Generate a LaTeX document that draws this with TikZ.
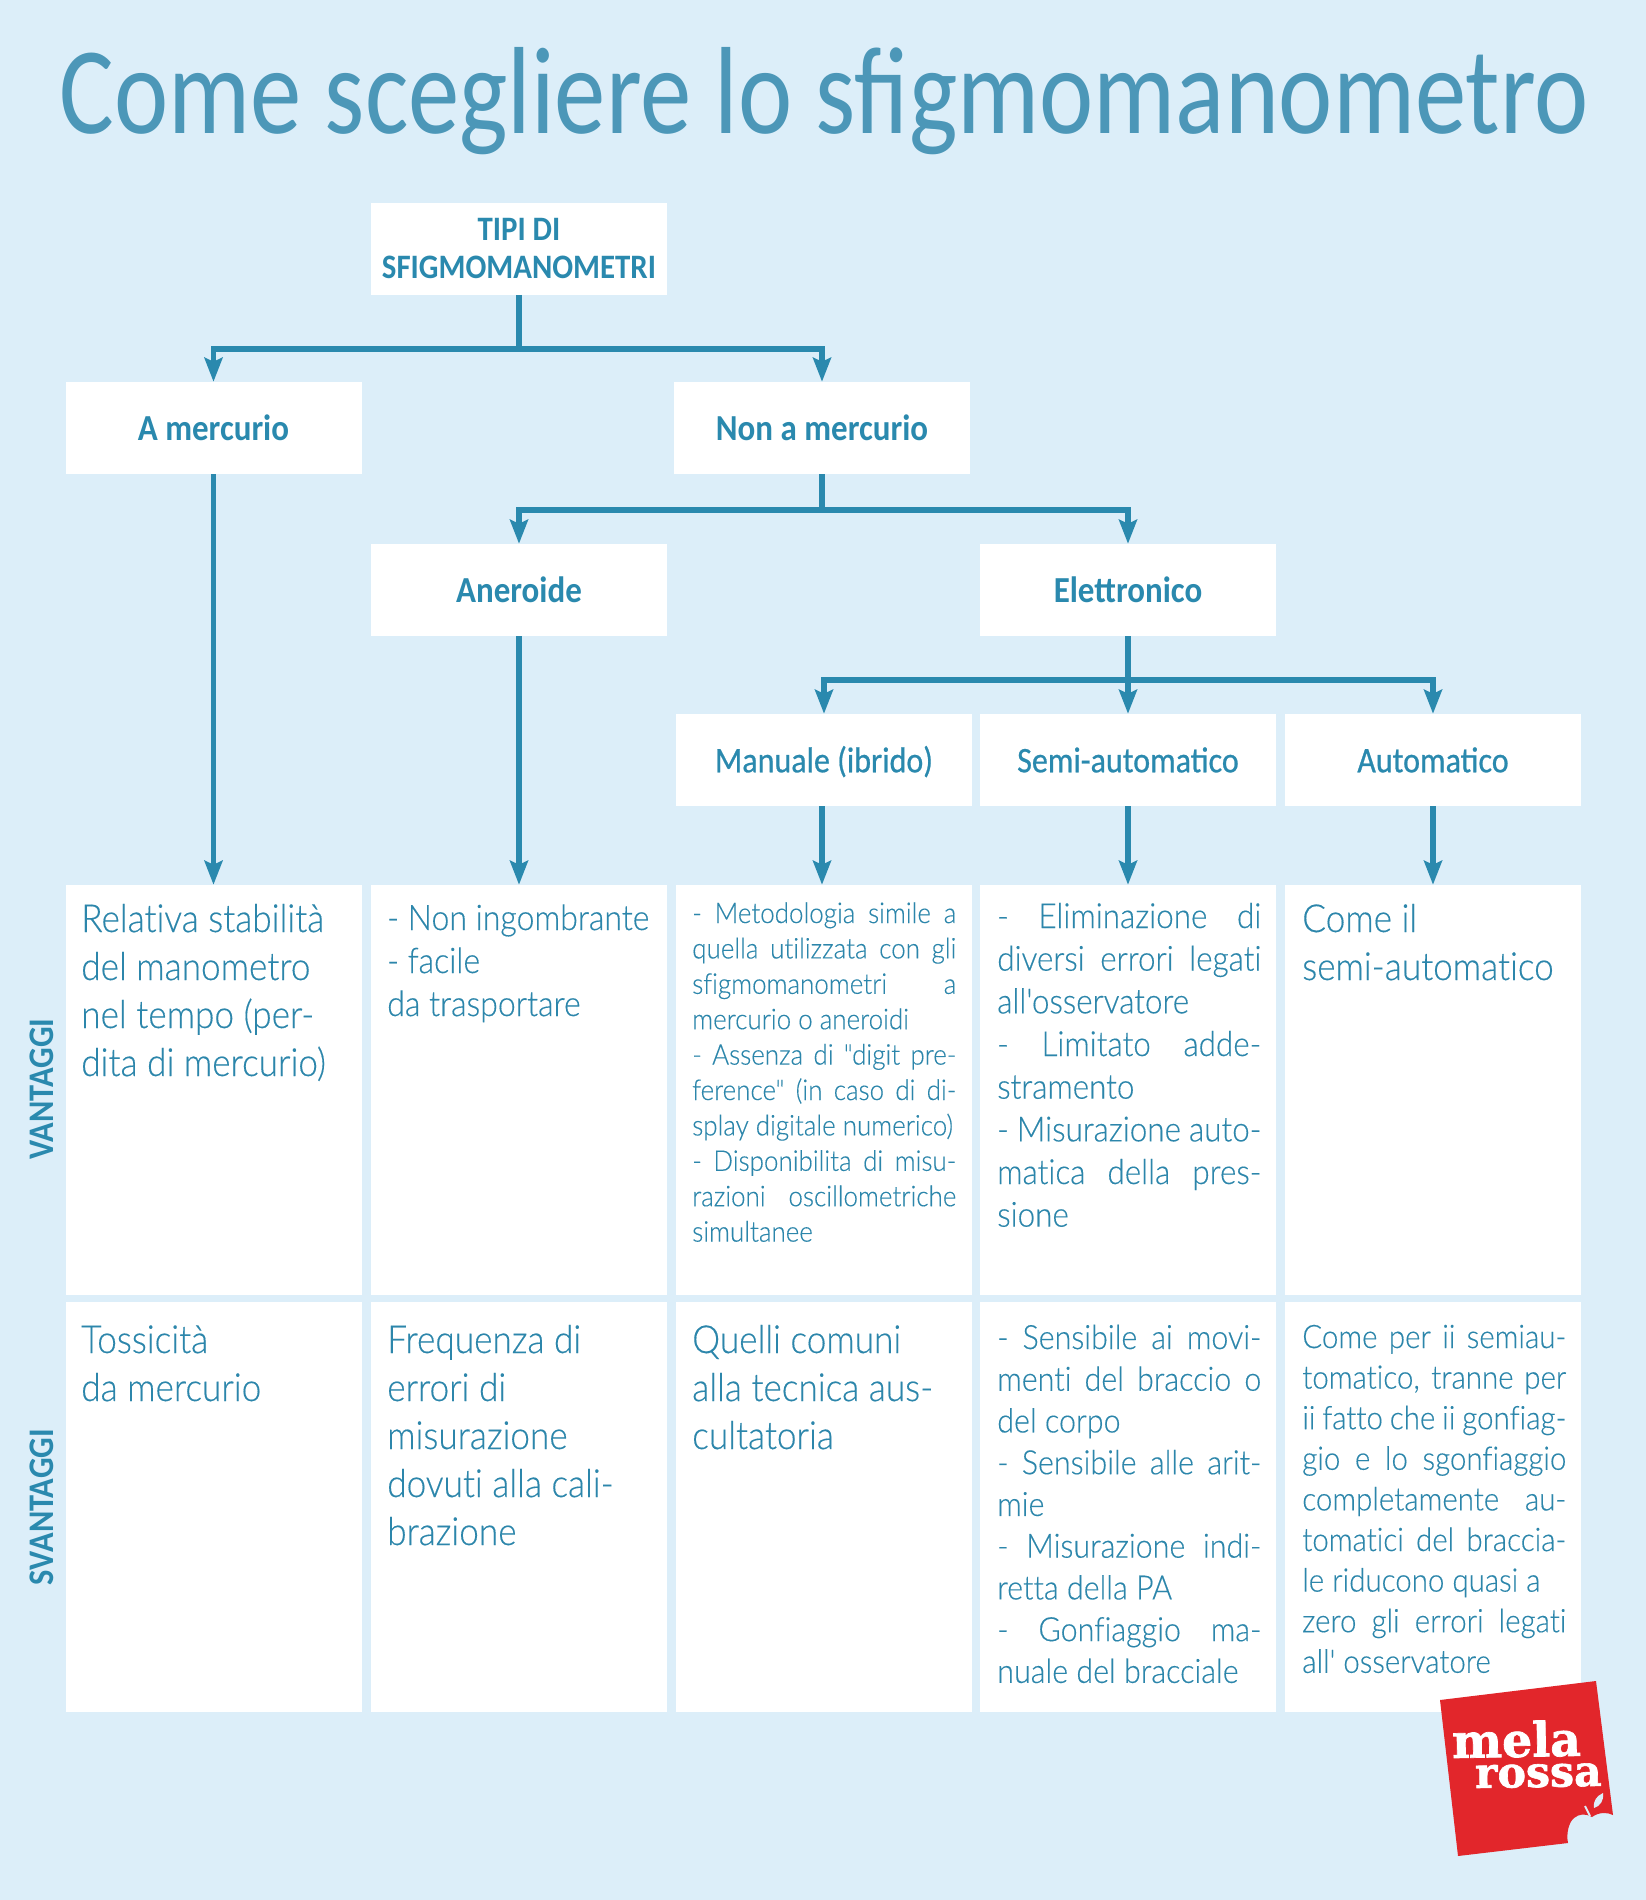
\documentclass[tikz,border=0pt]{standalone}
\usepackage{fontspec}
\setmainfont{Carlito}
\newfontfamily\titlefont[FakeStretch=0.828]{Carlito}
\newfontfamily\headfont[FakeStretch=0.9]{Carlito}
\newfontfamily\headmedfont[FakeStretch=0.89,FakeBold=0.6]{Carlito}
\newfontfamily\cellfont[FakeStretch=0.91,FakeBold=0.3,Ligatures=NoCommon]{Lato Light}
\newfontfamily\logofont[BoldFeatures={FakeBold=1.5}]{DejaVu Serif}
\usetikzlibrary{arrows.meta}
\definecolor{bgblue}{HTML}{DCEEF9}
\definecolor{linkblue}{HTML}{2A89AE}
\definecolor{inkblue}{HTML}{2C86AB}
\definecolor{titleblue}{HTML}{4C97B8}
\definecolor{logored}{HTML}{E2262B}
\tikzset{
  headbox/.style={fill=white,minimum width=222pt,minimum height=69pt,inner sep=0pt,align=center,text=linkblue,font=\headfont\bfseries\fontsize{27.5}{29}\selectfont},
  headone/.style={headbox,text height=22pt,text depth=3.6pt},
  headmed/.style={headone,font=\headmedfont\fontsize{27}{29}\selectfont},
  cellbox/.style={fill=white,minimum width=222pt,minimum height=307.5pt,inner sep=0pt},
  celltxt/.style={anchor=base west,inner sep=0pt,text width=198pt,align=justify,text=inkblue},
  big/.style={celltxt,font=\cellfont\fontsize{29}{36}\selectfont},
  midc/.style={celltxt,font=\cellfont\fontsize{26.4}{32.25}\selectfont},
  small/.style={celltxt,font=\cellfont\fontsize{21.4}{26.55}\selectfont},
  midd/.style={celltxt,font=\cellfont\fontsize{25.9}{32}\selectfont},
  mide/.style={celltxt,font=\cellfont\fontsize{25.1}{31.3}\selectfont},
  widec/.style={celltxt,font=\cellfont\fontsize{24.3}{30.45}\selectfont},
  link/.style={draw=linkblue,line width=4.1pt},
  arrowlink/.style={link,-{Stealth[length=18pt,width=13.5pt,inset=3pt]}},
  sidelabel/.style={rotate=90,text=linkblue,font=\headfont\bfseries\fontsize{27}{29}\selectfont},
  logotxt/.style={inner sep=0pt,anchor=base west,rotate=1,text=white}
}
\begin{document}
\begin{tikzpicture}[x=0.75pt,y=0.75pt,yscale=-1,xscale=1]
\useasboundingbox (0,0) rectangle (1646,1900);
\fill[bgblue] (0,0) rectangle (1646,1900);

% Title
\node[inner sep=0pt,anchor=base,text=titleblue,font=\titlefont\fontsize{93}{100}\selectfont] (title) at (824,133) {Come scegliere lo sfigmomanometro};

% Tree
\node[headbox,font=\headfont\bfseries\fontsize{25.7}{29}\selectfont] (tipi) at (519,248.5) {TIPI DI\\SFIGMOMANOMETRI};
\node[headone] (merc) at (213.5,428) {A mercurio};
\node[headone] (nonmerc) at (822,428) {Non a mercurio};
\node[headone] (aner) at (519,590) {Aneroide};
\node[headone] (elet) at (1128,590) {Elettronico};
\node[headmed] (manu) at (824,760) {Manuale (ibrido)};
\node[headmed] (semi) at (1128,760) {Semi-automatico};
\node[headmed] (auto) at (1433,760) {Automatico};

% Cells
\node[cellbox] (cva) at (213.5,1090) {};
\node[cellbox] (cvb) at (519,1090) {};
\node[cellbox] (cvc) at (824,1090) {};
\node[cellbox] (cvd) at (1128,1090) {};
\node[cellbox] (cve) at (1433,1090) {};
\node[cellbox] (csa) at (213.5,1507) {};
\node[cellbox] (csb) at (519,1507) {};
\node[cellbox] (csc) at (824,1507) {};
\node[cellbox] (csd) at (1128,1507) {};
\node[cellbox] (cse) at (1433,1507) {};

\node[sidelabel] (vant) at (42,1089) {VANTAGGI};
\node[sidelabel] (svant) at (42,1507) {SVANTAGGI};

% Connectors
\draw[link] (tipi.south) -- (519,349) coordinate (jta);
\draw[arrowlink] (jta) -| (merc.north);
\draw[arrowlink] (jta) -| (nonmerc.north);
\draw[link] (nonmerc.south) -- (822,510) coordinate (jnm);
\draw[arrowlink] (jnm) -| (aner.north);
\draw[arrowlink] (jnm) -| (elet.north);
\draw[link] (elet.south) -- (1128,680) coordinate (jel);
\draw[arrowlink] (jel) -| (manu.north);
\draw[arrowlink] (jel) -- (semi.north);
\draw[arrowlink] (jel) -| (auto.north);
\draw[arrowlink] (merc.south) -- (cva.north);
\draw[arrowlink] (aner.south) -- (cvb.north);
\draw[arrowlink] ([xshift=-1.5pt]manu.south) -- ([xshift=-1.5pt]cvc.north);
\draw[arrowlink] (semi.south) -- (cvd.north);
\draw[arrowlink] (auto.south) -- (cve.north);

% Vantaggi
\node[big] (tva) at (81,932) {Relativa stabilità\\del manometro\\nel tempo (per-\\dita di mercurio)};
\node[midc] (tvb) at (387,930) {- Non ingombrante\\- facile\\da trasportare};
\node[small] (tvc) at (692,923) {- Metodologia simile a\linebreak quella utilizzata con gli\linebreak sfigmomanometri a\linebreak mercurio o aneroidi\\- Assenza di "digit pre-\linebreak ference" (in caso di di-\linebreak splay digitale numerico)\\- Disponibilita di misu-\linebreak razioni oscillometriche\linebreak simultanee};
\node[midd] (tvd) at (997,928) {- Eliminazione di\linebreak diversi errori legati\linebreak all'osservatore\\- Limitato adde-\linebreak stramento\\- Misurazione auto-\linebreak matica della pres-\linebreak sione};
\node[big] (tve) at (1302,932) {Come il\\semi-automatico};

% Svantaggi
\node[big] (tsa) at (81,1353) {Tossicità\\da mercurio};
\node[big] (tsb) at (387,1353) {Frequenza di\\errori di\\misurazione\\dovuti alla cali-\\brazione};
\node[big] (tsc) at (692,1353) {Quelli comuni\\alla tecnica aus-\\cultatoria};
\node[mide] (tsd) at (997,1349) {- Sensibile ai movi-\linebreak menti del braccio o\linebreak del corpo\\- Sensibile alle arit-\linebreak mie\\- Misurazione indi-\linebreak retta della PA\\- Gonfiaggio ma-\linebreak nuale del bracciale};
\node[widec] (tse) at (1302,1348) {Come per ii semiau-\linebreak tomatico, tranne per\linebreak ii fatto che ii gonfiag-\linebreak gio e lo sgonfiaggio\linebreak completamente au-\linebreak tomatici del braccia-\linebreak le riducono quasi a\\zero gli errori legati\linebreak all' osservatore};

% Logo
\fill[logored] (1440,1700) -- (1596,1681) -- (1613,1815) .. controls (1607,1812) and (1599,1812) .. (1592,1817) .. controls (1585,1813) and (1579,1814) .. (1574,1818) .. controls (1569,1822) and (1566,1833) .. (1568,1843) -- (1458,1856) -- cycle;
\fill[bgblue] (1594,1808) .. controls (1593,1800) and (1597,1796) .. (1603,1793) .. controls (1604,1801) and (1600,1806) .. (1594,1808) -- cycle;
\draw[bgblue,line width=1.5pt] (1585,1806) -- (1590,1816);
\node[logotxt,font=\logofont\bfseries\fontsize{35.5}{36}\selectfont] (mela) at (1452,1758) {mela};
\node[logotxt,font=\logofont\bfseries\fontsize{32}{33}\selectfont] (rossa) at (1475,1788) {rossa};
\end{tikzpicture}
\end{document}
